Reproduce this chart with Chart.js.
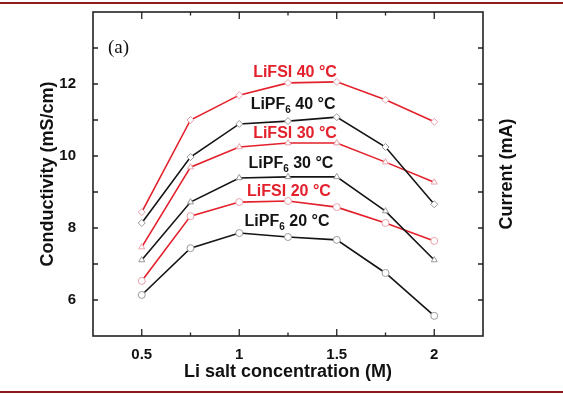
<!DOCTYPE html>
<html>
<head>
<meta charset="utf-8">
<script src="https://cdn.jsdelivr.net/npm/chart.js@4.4.1/dist/chart.umd.min.js"></script>
<style>
  html, body { margin: 0; padding: 0; background: #fff; }
  #wrap { position: relative; width: 563px; height: 394px; overflow: hidden; }
  .rule { position: absolute; left: 0; width: 563px; height: 2px; background: #8e1b1b; }
</style>
</head>
<body>
<div id="wrap">
  <canvas id="condChart" width="563" height="394"></canvas>
  <div class="rule" style="top:2px"></div>
  <div class="rule" style="top:391px"></div>
</div>
<script>
// concentrations (M)
const concentrations = [0.5, 0.75, 1, 1.25, 1.5, 1.75, 2];

// conductivity (mS/cm)
const lifsi40 = [8.44, 11.0, 11.69, 12.03, 12.06, 11.56, 10.95];
const lipf640 = [8.14, 9.97, 10.89, 10.97, 11.08, 10.25, 8.66];
const lifsi30 = [7.47, 9.69, 10.25, 10.36, 10.36, 9.83, 9.27];
const lipf630 = [7.11, 8.72, 9.39, 9.42, 9.42, 8.47, 7.11];
const lifsi20 = [6.53, 8.33, 8.72, 8.75, 8.58, 8.14, 7.64];
const lipf620 = [6.14, 7.44, 7.86, 7.75, 7.67, 6.75, 5.56];

const xTickLabels = [0.5, 1, 1.5, 2];
const yTickLabels = [6, 8, 10, 12];

const RED = '#e3202b';
const BLACK = '#141414';
const FONT = '"Liberation Sans", Arial, sans-serif';

function series(values, color, marker, markerEdge) {
  return {
    data: concentrations.map((c, i) => ({ x: c, y: values[i] })),
    borderColor: color,
    borderWidth: 1.6,
    pointStyle: marker,
    pointRadius: 3.5,
    pointBackgroundColor: '#fff',
    pointBorderColor: markerEdge,
    pointBorderWidth: 1,
    tension: 0
  };
}

// in-plot curve labels, anchored in data units
const curveLabels = [
  { text: 'LiFSI 40 °C', color: RED, at: [1.286, 12.31] },
  { text: 'LiPF_6 40 °C', color: BLACK, at: [1.276, 11.42] },
  { text: 'LiFSI 30 °C', color: RED, at: [1.286, 10.61] },
  { text: 'LiPF_6 30 °C', color: BLACK, at: [1.265, 9.78] },
  { text: 'LiFSI 20 °C', color: RED, at: [1.255, 9.0] },
  { text: 'LiPF_6 20 °C', color: BLACK, at: [1.245, 8.17] }
];

function drawRich(ctx, str, cx, cy, size) {
  const parts = [];
  str.split(/_(.)/).forEach((p, i) => { if (p) parts.push({ t: p, sub: i % 2 === 1 }); });
  const big = 'bold ' + size + 'px ' + FONT;
  const small = 'bold ' + Math.round(size * 0.62) + 'px ' + FONT;
  let w = 0;
  parts.forEach(p => { ctx.font = p.sub ? small : big; p.w = ctx.measureText(p.t).width; w += p.w; });
  let x = cx - w / 2;
  ctx.textBaseline = 'middle';
  ctx.textAlign = 'left';
  parts.forEach(p => {
    ctx.font = p.sub ? small : big;
    ctx.fillText(p.t, x, p.sub ? cy + size * 0.35 : cy);
    x += p.w;
  });
}

const framePlugin = {
  id: 'frame',
  afterDatasetsDraw(chart) {
    const { ctx, chartArea: a, scales: { x, y } } = chart;
    ctx.save();
    ctx.strokeStyle = '#222';
    ctx.lineWidth = 1.6;
    ctx.strokeRect(a.left, a.top, a.right - a.left, a.bottom - a.top);
    ctx.lineWidth = 1.3;
    ctx.beginPath();
    x.ticks.forEach(t => {
      if (t.value < 0.5 || t.value > 2) return;
      const px = x.getPixelForValue(t.value);
      const len = xTickLabels.includes(t.value) ? 7 : 3.5;
      ctx.moveTo(px, a.bottom); ctx.lineTo(px, a.bottom - len);
      ctx.moveTo(px, a.top); ctx.lineTo(px, a.top + len);
    });
    y.ticks.forEach(t => {
      if (t.value <= 5 || t.value >= 14) return;
      const py = y.getPixelForValue(t.value);
      ctx.moveTo(a.left, py); ctx.lineTo(a.left + 5, py);
      ctx.moveTo(a.right, py); ctx.lineTo(a.right - 5, py);
    });
    ctx.stroke();
    ctx.restore();
  },
  afterDraw(chart) {
    const { ctx, chartArea: a, scales: { x, y } } = chart;
    ctx.save();
    curveLabels.forEach(l => {
      ctx.fillStyle = l.color;
      drawRich(ctx, l.text, x.getPixelForValue(l.at[0]), y.getPixelForValue(l.at[1]), 16);
    });
    // panel tag
    ctx.fillStyle = '#111';
    ctx.font = '19px "Liberation Serif", "Times New Roman", serif';
    ctx.textAlign = 'left';
    ctx.textBaseline = 'middle';
    ctx.fillText('(a)', a.left + 15, a.top + 36);
    // right axis title
    ctx.font = 'bold 18px ' + FONT;
    ctx.textAlign = 'center';
    ctx.translate(507, (a.top + a.bottom) / 2);
    ctx.rotate(-Math.PI / 2);
    ctx.fillText('Current (mA)', 0, 0);
    ctx.restore();
  }
};

new Chart(document.getElementById('condChart'), {
  type: 'line',
  data: {
    datasets: [
      series(lifsi40, RED, 'rectRot', '#e8a2aa'),
      series(lipf640, BLACK, 'rectRot', '#9a9a9a'),
      series(lifsi30, RED, 'triangle', '#e8a2aa'),
      series(lipf630, BLACK, 'triangle', '#9a9a9a'),
      series(lifsi20, RED, 'circle', '#e8a2aa'),
      series(lipf620, BLACK, 'circle', '#9a9a9a')
    ]
  },
  options: {
    responsive: false,
    animation: false,
    layout: { padding: { top: 12, right: 80, left: 0, bottom: 0 } },
    plugins: { legend: { display: false }, tooltip: { enabled: false } },
    scales: {
      x: {
        type: 'linear',
        min: 0.25,
        max: 2.25,
        grid: { display: false, drawTicks: false },
        border: { display: false },
        ticks: {
          stepSize: 0.25,
          autoSkip: false,
          maxRotation: 0,
          padding: 10,
          color: '#111',
          font: { family: FONT, size: 15, weight: 'bold' },
          callback: v => xTickLabels.includes(v) ? String(v) : ''
        },
        title: {
          display: true,
          text: 'Li salt concentration (M)',
          color: '#111',
          font: { family: FONT, size: 18, weight: 'bold' },
          padding: { top: 0, bottom: 11 }
        },
        afterFit: s => { s.height = 58; s.paddingLeft = 0; s.paddingRight = 0; }
      },
      y: {
        min: 5,
        max: 14,
        grid: { display: false, drawTicks: false },
        border: { display: false },
        ticks: {
          stepSize: 1,
          padding: 17,
          color: '#111',
          font: { family: FONT, size: 15, weight: 'bold' },
          callback: v => yTickLabels.includes(v) ? String(v) : ''
        },
        title: {
          display: true,
          text: 'Conductivity (mS/cm)',
          color: '#111',
          font: { family: FONT, size: 18, weight: 'bold' },
          padding: { top: 37, bottom: 0 }
        },
        afterFit: s => { s.width = 93; s.paddingTop = 0; s.paddingBottom = 0; }
      }
    }
  },
  plugins: [framePlugin]
});
</script>
</body>
</html>
